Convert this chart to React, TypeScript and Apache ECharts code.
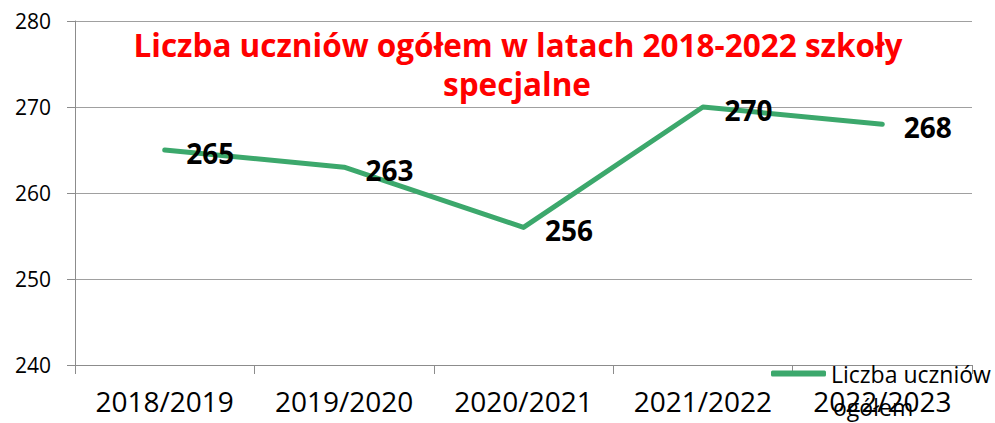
import React, { useEffect, useRef } from "react";
import * as echarts from "echarts";

const categories = ["2018/2019", "2019/2020", "2020/2021", "2021/2022", "2022/2023"];
const values = [265, 263, 256, 270, 268];
const seriesName = "Liczba uczniów ogółem";
const titleLines = ["Liczba uczniów ogółem w latach 2018-2022 szkoły", "specjalne"];

const FONT = "'Open Sans', sans-serif";
const GREEN = "#3ca86c";

export default function App() {
  const ref = useRef<HTMLDivElement>(null);
  useEffect(() => {
    if (!ref.current) return;
    const chart = echarts.init(ref.current, undefined, { renderer: "svg" });
    chart.setOption({
      animation: false,
      backgroundColor: "#ffffff",
      grid: { left: 75, right: 23, top: 21, bottom: 58 },
      xAxis: {
        type: "category",
        data: categories,
        boundaryGap: true,
        axisLine: { show: true, lineStyle: { color: "#8c8c8c", width: 1 } },
        axisTick: { show: true, length: 9, lineStyle: { color: "#8c8c8c" } },
        axisLabel: { color: "#000", fontSize: 28, fontFamily: FONT, margin: 22, interval: 0, hideOverlap: false },
      },
      yAxis: {
        type: "value",
        min: 240,
        max: 280,
        interval: 10,
        axisLine: { show: true, lineStyle: { color: "#8c8c8c", width: 1 } },
        axisTick: { show: true, length: 8, lineStyle: { color: "#8c8c8c" } },
        splitLine: { show: true, lineStyle: { color: "#a0a0a0", width: 1 } },
        axisLabel: { color: "#000", fontSize: 21, fontFamily: FONT, margin: 24 },
      },
      legend: {
        show: true,
        left: 771,
        top: 362,
        padding: 0,
        itemWidth: 55,
        itemHeight: 6,
        itemGap: 10,
        icon: "roundRect",
        itemStyle: { color: GREEN, opacity: 1 },
        formatter: () => "Liczba uczniów",
        textStyle: { color: "#000", fontSize: 23, fontFamily: FONT, padding: [0, 0, 0, 0] },
        data: [seriesName],
      },
      graphic: [
        {
          type: "text",
          x: 518,
          y: 44,
          style: {
            text: titleLines[0],
            fill: "#ff0000",
            font: `bold 31.5px ${FONT}`,
            textAlign: "center",
            textVerticalAlign: "middle",
          },
        },
        {
          type: "text",
          x: 517,
          y: 83,
          style: {
            text: titleLines[1],
            fill: "#ff0000",
            font: `bold 31.5px ${FONT}`,
            textAlign: "center",
            textVerticalAlign: "middle",
          },
        },
        {
          type: "text",
          x: 833,
          y: 407,
          style: {
            text: "ogółem",
            fill: "#000",
            font: `23px ${FONT}`,
            textAlign: "left",
            textVerticalAlign: "middle",
          },
        },
      ],
      series: [
        {
          name: seriesName,
          type: "line",
          data: values,
          showSymbol: true,
          symbol: "circle",
          symbolSize: 1,
          lineStyle: { color: GREEN, width: 5, cap: "round", join: "round" },
          itemStyle: { color: GREEN },
          label: {
            show: true,
            position: "right",
            distance: 21,
            offset: [0, 3],
            color: "#000",
            fontWeight: "bold",
            fontSize: 28,
            fontFamily: FONT,
          },
        },
      ],
    });
    return () => chart.dispose();
  }, []);
  return <div ref={ref} style={{ width: 995, height: 423, position: "absolute", left: 0, top: 0 }} />;
}
